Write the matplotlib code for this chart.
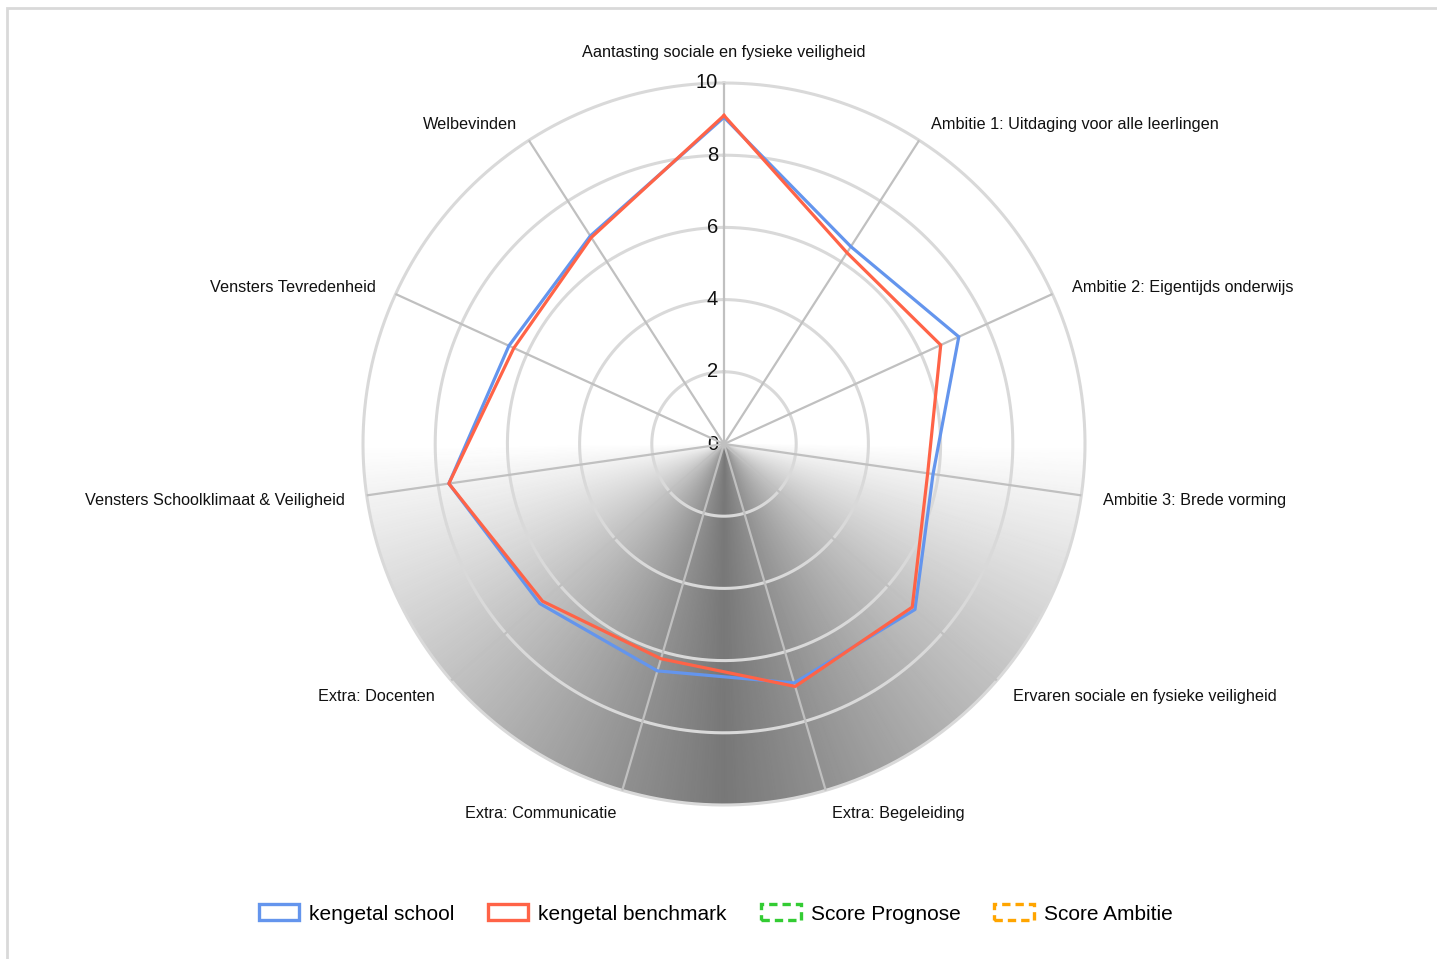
import numpy as np
import matplotlib.pyplot as plt
import matplotlib.transforms as mtransforms
from matplotlib.patches import Patch, Rectangle

plt.rcParams['font.family'] = ['Liberation Sans', 'DejaVu Sans']

categories = [
    "Aantasting sociale en fysieke veiligheid",
    "Ambitie 1: Uitdaging voor alle leerlingen",
    "Ambitie 2: Eigentijds onderwijs",
    "Ambitie 3: Brede vorming",
    "Ervaren sociale en fysieke veiligheid",
    "Extra: Begeleiding",
    "Extra: Communicatie",
    "Extra: Docenten",
    "Vensters Schoolklimaat & Veiligheid",
    "Vensters Tevredenheid",
    "Welbevinden",
]
school = [9.05, 6.5, 7.15, 5.85, 7.0, 6.9, 6.55, 6.75, 7.7, 6.55, 6.85]
benchmark = [9.1, 6.3, 6.6, 5.7, 6.9, 7.0, 6.2, 6.65, 7.7, 6.4, 6.8]
rticks = [0, 2, 4, 6, 8, 10]
legend_names = ["kengetal school", "kengetal benchmark", "Score Prognose", "Score Ambitie"]

W, H = 1437, 959
fig = plt.figure(figsize=(W / 100, H / 100), dpi=100)
cx, cy, R = 724, 444, 361
ax = fig.add_axes([(cx - R) / W, (H - cy - R) / H, 2 * R / W, 2 * R / H], projection='polar')
ax.set_theta_offset(np.pi / 2)
ax.set_theta_direction(-1)
ax.grid(False)
ax.set_xticks([])
ax.set_yticks([])
ax.spines['polar'].set_visible(False)
ax.patch.set_alpha(0)

# grey fan in the lower half
th = np.linspace(np.pi / 2, 3 * np.pi / 2, 361)
rr = np.array([0, 10])
T, RR = np.meshgrid(th, rr)
phi = np.pi / 2 - np.abs(T - np.pi)
g = 1 - 0.53 * (phi / (np.pi / 2))
ax.pcolormesh(T, RR, g, cmap='gray', vmin=0, vmax=1, shading='gouraud', zorder=0)

n = len(categories)
angles = np.arange(n) * 2 * np.pi / n

tr = mtransforms.offset_copy(ax.transData, fig=fig, x=-6, y=0, units='dots')
for v in rticks:
    ax.text(0, v, str(v), ha='right', va='center', fontsize=14.5, color='#111111',
            transform=tr, zorder=1.5)

full = np.linspace(0, 2 * np.pi, 500)
for v in rticks[1:]:
    ax.plot(full, np.full_like(full, v), color='#d9d9d9', lw=2.2, zorder=1, clip_on=False)
for a in angles:
    ax.plot([a, a], [0, 10], color='#c0c0c0', lw=1.6, zorder=2)

ang_c = np.append(angles, angles[0])
ax.plot(ang_c, school + school[:1], color='#6495ED', lw=2.3, zorder=3)
ax.plot(ang_c, benchmark + benchmark[:1], color='#FF6347', lw=2.3, zorder=4)
ax.set_ylim(0, 10)

tr2 = mtransforms.offset_copy(ax.transData, fig=fig, x=0, y=-2, units='dots')
for a, lab in zip(angles, categories):
    s = np.sin(a)
    if s > 0.01:
        ha = 'left'
    elif s < -0.01:
        ha = 'right'
    else:
        ha = 'center'
    r = 10.9 if ha == 'center' else 10.6
    ax.text(a, r, lab, ha=ha, va='center', fontsize=11.7, color='#111111',
            transform=tr2, clip_on=False)

# outer border
fig.add_artist(Rectangle((7 / W, -0.1), 2, (H - 8) / H + 0.1, transform=fig.transFigure,
                         fill=False, edgecolor='#d9d9d9', lw=2))

colors = ['#6495ED', '#FF6347', '#33CC33', '#FFA500']
styles = ['-', '-', (0, (2.5, 1.5)), (0, (2.5, 1.5))]
handles = [Patch(facecolor='none', edgecolor=c, linewidth=2.4, linestyle=ls)
           for c, ls in zip(colors, styles)]
fig.legend(handles, legend_names, loc='center', bbox_to_anchor=(716 / W, 1 - 914 / H),
           ncol=4, frameon=False, fontsize=15, handlelength=1.92, handleheight=0.78,
           handletextpad=0.48, columnspacing=1.63)

fig.savefig('out.png', dpi=100)
